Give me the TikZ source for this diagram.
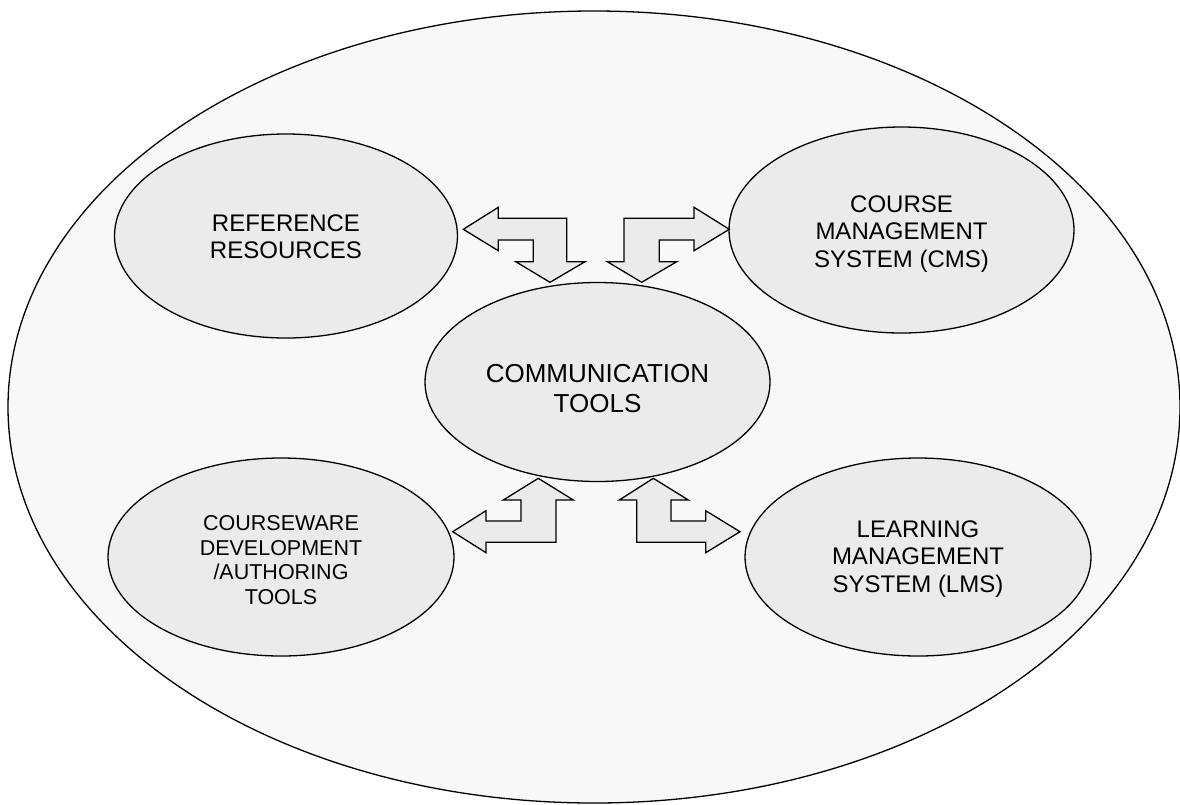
\documentclass[tikz,border=0pt]{standalone}
\usepackage{fontspec}
\setmainfont{Liberation Sans}
\usetikzlibrary{shapes.geometric}
\definecolor{outerfill}{HTML}{F8F8F8}
\definecolor{innerfill}{HTML}{EBEBEB}
\begin{document}
\begin{tikzpicture}[x=1pt,y=-1pt,
  blob/.style={ellipse, draw=black, line width=1.3pt, fill=innerfill, inner sep=0pt},
  lbl/.style={align=center, inner sep=0pt, font=\fontsize{24}{27.5}\selectfont},
  blockarrow/.style={draw=black, line width=1.3pt, fill=innerfill, line join=miter}]
\useasboundingbox (0,0) rectangle (1180,804);
\fill[white] (0,0) rectangle (1180,804);
% outer ellipse
\node[ellipse, draw=black, line width=1.3pt, fill=outerfill, inner sep=0pt,
      minimum width=1172pt, minimum height=792pt] (world) at (594,407) {};
% inner ellipses
\node[blob, minimum width=343pt, minimum height=204pt] (ref) at (286,236) {};
\node[blob, minimum width=345pt, minimum height=206pt] (cms) at (901.5,230) {};
\node[blob, minimum width=345pt, minimum height=199pt] (comm) at (597.5,382) {};
\node[blob, minimum width=346pt, minimum height=198pt] (cw) at (281,557) {};
\node[blob, minimum width=346pt, minimum height=198pt] (lms) at (918,557) {};
% labels
\node[lbl, yshift=-1pt, font=\fontsize{24}{26.7}\selectfont] (ref-t) at (ref) {REFERENCE\\RESOURCES};
\node[lbl, yshift=-4pt] (cms-t) at (cms) {COURSE\\MANAGEMENT\\SYSTEM (CMS)};
\node[lbl, yshift=-7pt, font=\fontsize{26}{30}\selectfont] (comm-t) at (comm) {COMMUNICATION\\TOOLS};
\node[lbl, yshift=-3pt, font=\fontsize{21.5}{24.7}\selectfont] (cw-t) at (cw) {COURSEWARE\\DEVELOPMENT\\/AUTHORING\\TOOLS};
\node[lbl, yshift=-2pt, font=\fontsize{24}{27.8}\selectfont] (lms-t) at (lms) {LEARNING\\MANAGEMENT\\SYSTEM (LMS)};
% block arrows
\draw[blockarrow] (463.3,229.3) -- (498.3,207.3) -- (498.3,218.3) -- (566.7,218.3) -- (566.7,261.7) -- (585,261.7) -- (550,282.3) -- (515.7,261.7) -- (533.3,261.7) -- (533.3,240) -- (498.3,240) -- (498.3,250.7) -- cycle;
\draw[blockarrow] (729.3,229.3) -- (694,207.3) -- (694,218.3) -- (624,218.3) -- (624,261.7) -- (607.3,261.7) -- (641.7,282.3) -- (676.7,261.7) -- (659.3,261.7) -- (659.3,240) -- (694,240) -- (694,250.7) -- cycle;
\draw[blockarrow] (538.3,478.3) -- (573.3,500) -- (556,500) -- (556,542.3) -- (486,542.3) -- (486,552.7) -- (452.7,531.7) -- (486,510.7) -- (486,521) -- (521,521) -- (521,500) -- (503.3,500) -- cycle;
\draw[blockarrow] (653.3,478.3) -- (688.3,500) -- (671,500) -- (671,521) -- (705.7,521) -- (705.7,510.7) -- (740,531.7) -- (705.7,552.7) -- (705.7,542.3) -- (636.7,542.3) -- (636.7,500) -- (619.3,500) -- cycle;
\end{tikzpicture}
\end{document}
